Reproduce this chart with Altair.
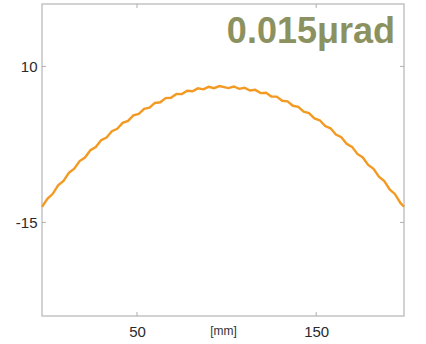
import altair as alt
import pandas as pd

# curve (position along mirror in mm, value in µrad-scale units)
xs = [-3, 0, 3, 6, 9, 12, 15, 18, 21, 24, 27, 30, 33, 36, 39, 42, 45, 48, 51, 54,
      57, 60, 63, 66, 69, 72, 75, 78, 81, 84, 87, 90, 93, 96, 101, 104, 107, 110,
      113, 116, 119, 122, 125, 128, 131, 134, 137, 140, 143, 146, 149, 152, 155,
      158, 161, 164, 167, 170, 173, 176, 179, 182, 185, 188, 191, 194, 197, 199]
ys = [-12.50, -11.21, -10.42, -9.06, -8.34, -7.05, -6.40, -5.18, -4.60, -3.44,
      -2.93, -1.84, -1.39, -0.38, 0.01, 0.95, 1.27, 2.15, 2.40, 3.21, 3.39, 4.14,
      4.25, 4.92, 4.97, 5.58, 5.56, 6.10, 6.01, 6.48, 6.32, 6.73, 6.50, 6.84, 6.53,
      6.78, 6.40, 6.58, 6.13, 6.24, 5.72, 5.77, 5.18, 5.16, 4.50, 4.41, 3.69, 3.53,
      2.74, 2.52, 1.66, 1.37, 0.44, 0.08, -0.91, -1.34, -2.40, -2.90, -4.03, -4.59,
      -5.78, -6.42, -7.68, -8.38, -9.71, -10.48, -11.88, -12.50]

x_ticks = [50, 150]
y_ticks = [-15, 10]
x_title = "[mm]"
label_text = "0.015μrad"

W, H = 362, 312
XDOM = [-3, 199]
YDOM = [-30, 20]

df = pd.DataFrame({"x": xs, "y": ys})
xt = pd.DataFrame({"x": x_ticks})
yt = pd.DataFrame({"y": y_ticks})

xscale = alt.Scale(domain=XDOM, nice=False, zero=False)
yscale = alt.Scale(domain=YDOM, nice=False, zero=False)

font = "Liberation Sans, Arial, sans-serif"

line = alt.Chart(df).mark_line(color="#f39a24", strokeWidth=2.4).encode(
    x=alt.X("x:Q", scale=xscale,
            axis=alt.Axis(values=x_ticks, title=x_title, tickSize=0, domain=False,
                          grid=False, labelFontSize=15, labelColor="#2a2a2a",
                          labelFont=font, labelPadding=8, titleFont=font,
                          titleFontSize=12, titleFontWeight="normal",
                          titleColor="#333333", titlePadding=-14)),
    y=alt.Y("y:Q", scale=yscale,
            axis=alt.Axis(values=y_ticks, title=None, tickSize=0, domain=False,
                          grid=False, labelFontSize=15, labelColor="#2a2a2a",
                          labelFont=font, labelPadding=5,
                          labelExpr="replace(datum.label, '\u2212', '-')")),
)

tick_color = "#b0b0b0"
top_ticks = alt.Chart(xt).mark_rule(color=tick_color, strokeWidth=1).encode(
    x=alt.X("x:Q", scale=xscale), y=alt.value(0), y2=alt.value(4))
bot_ticks = alt.Chart(xt).mark_rule(color=tick_color, strokeWidth=1).encode(
    x=alt.X("x:Q", scale=xscale), y=alt.value(H - 4), y2=alt.value(H))
left_ticks = alt.Chart(yt).mark_rule(color=tick_color, strokeWidth=1).encode(
    y=alt.Y("y:Q", scale=yscale), x=alt.value(0), x2=alt.value(4))
right_ticks = alt.Chart(yt).mark_rule(color=tick_color, strokeWidth=1).encode(
    y=alt.Y("y:Q", scale=yscale), x=alt.value(W - 4), x2=alt.value(W))

label = alt.Chart(pd.DataFrame({"t": [label_text]})).mark_text(
    align="right", baseline="alphabetic", fontSize=36, fontWeight="bold",
    font=font, color="#8b915f").encode(
    text="t:N", x=alt.value(W - 9), y=alt.value(39))

chart = alt.layer(line, top_ticks, bot_ticks, left_ticks, right_ticks, label).properties(
    width=W, height=H,
    autosize=alt.AutoSizeParams(type="none"),
    padding={"left": 42, "top": 4, "right": 22, "bottom": 28},
    background="white",
).configure_view(stroke="#c4c4c4", strokeWidth=1.5)

chart.save("out.html", embed_options={"renderer": "svg", "actions": False})
